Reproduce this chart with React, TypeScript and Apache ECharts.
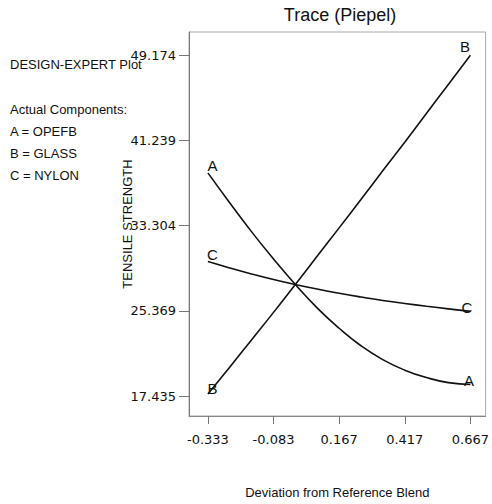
import React, { useEffect, useRef } from "react";
import * as echarts from "echarts";

const deviation = [-0.333, -0.25, -0.167, -0.083, 0, 0.083, 0.167, 0.25, 0.333, 0.417, 0.5, 0.583, 0.667];
const traceA = [38.22, 35.44, 32.75, 30.2, 27.83, 25.65, 23.75, 22.12, 20.83, 19.85, 19.16, 18.69, 18.51];
const traceB = [17.62, 20.13, 22.66, 25.23, 27.83, 30.45, 33.1, 35.74, 38.41, 41.08, 43.77, 46.46, 49.17];
const traceC = [29.96, 29.37, 28.81, 28.29, 27.83, 27.4, 27.01, 26.66, 26.34, 26.06, 25.8, 25.56, 25.32];
const xTicks = [-0.333, -0.083, 0.167, 0.417, 0.667];
const yTicks = [17.435, 25.369, 33.304, 41.239, 49.174];
const legendLines = ["Actual Components:", "A = OPEFB", "B = GLASS", "C = NYLON"];

const FONT = "'Liberation Sans', Arial, sans-serif";

function buildData(values: number[], letter: string, startOff: number[], endOff: number[]) {
  return values.map((v, i) => {
    const item: any = { value: [deviation[i], v] };
    if (i === 0 || i === values.length - 1) {
      const off = i === 0 ? startOff : endOff;
      item.label = {
        show: true,
        formatter: letter,
        position: [off[0], off[1]],
        align: "center",
        verticalAlign: "middle",
        color: "#111",
        fontSize: 15,
        fontFamily: FONT,
      };
    }
    return item;
  });
}

export default function App() {
  const ref = useRef<HTMLDivElement>(null);
  useEffect(() => {
    if (!ref.current) return;
    const chart = echarts.init(ref.current, null, { renderer: "svg" });
    const lineStyle = { color: "#111", width: 1.6 };
    const mkSeries = (name: string, vals: number[], s: number[], e: number[]) => ({
      name,
      type: "line",
      data: buildData(vals, name, s, e),
      smooth: 0.5,
      showSymbol: true,
      symbol: "circle",
      symbolSize: 1,
      itemStyle: { color: "rgba(0,0,0,0)" },
      label: { show: false },
      lineStyle,
      labelLayout: { hideOverlap: false },
    });
    chart.setOption({
      animation: false,
      backgroundColor: "#fff",
      grid: { left: 189, top: 32, right: 4, bottom: 87, show: true, borderColor: "#aaa", borderWidth: 1 },
      xAxis: {
        type: "value",
        min: -0.405,
        max: 0.725,
        name: "Deviation from Reference Blend",
        nameLocation: "middle",
        nameGap: 70,
        nameMoveOverlap: false,
        nameTextStyle: { fontFamily: FONT, fontSize: 13, color: "#111" },
        axisLine: { show: true, onZero: false, lineStyle: { color: "#888" } },
        axisTick: { show: true, length: 8, lineStyle: { color: "#777" }, customValues: xTicks },
        axisLabel: {
          customValues: xTicks,
          formatter: (v: number) => v.toFixed(3),
          fontFamily: "'DejaVu Sans', sans-serif",
          fontSize: 13,
          color: "#111",
          margin: 17,
        },
        splitLine: { show: false },
      },
      yAxis: {
        type: "value",
        min: 15.58,
        max: 51.34,
        name: "TENSILE STRENGTH",
        nameLocation: "middle",
        nameGap: 55,
        nameMoveOverlap: false,
        nameTextStyle: { fontFamily: FONT, fontSize: 13, color: "#111" },
        axisLine: { show: true, onZero: false, lineStyle: { color: "#777" } },
        axisTick: { show: true, length: 10, lineStyle: { color: "#777" }, customValues: yTicks },
        axisLabel: {
          customValues: yTicks,
          formatter: (v: number) => v.toFixed(3),
          fontFamily: "'DejaVu Sans', sans-serif",
          fontSize: 13,
          color: "#111",
          margin: 13,
        },
        splitLine: { show: false },
      },
      graphic: [
        {
          type: "text",
          x: 340,
          y: 6,
          style: { text: "Trace (Piepel)", fontFamily: FONT, fontSize: 18, fill: "#111", textAlign: "center" },
        },
        {
          type: "text",
          x: 10,
          y: 64,
          style: { text: "DESIGN-EXPERT Plot", fontFamily: FONT, fontSize: 13, fill: "#111", textVerticalAlign: "middle" },
        },
        ...legendLines.map((t, i) => ({
          type: "text",
          x: 10,
          y: 109 + i * 22,
          style: { text: t, fontFamily: FONT, fontSize: 13, fill: "#111", textVerticalAlign: "middle" },
        })),
      ],
      series: [
        mkSeries("A", traceA, [5, -7], [-1, -4]),
        mkSeries("B", traceB, [5, -5], [-5, -8]),
        mkSeries("C", traceC, [5, -7], [-3, -3]),
      ],
    });
    return () => chart.dispose();
  }, []);
  return <div ref={ref} style={{ width: 492, height: 504, position: "absolute", left: 0, top: 0 }} />;
}
